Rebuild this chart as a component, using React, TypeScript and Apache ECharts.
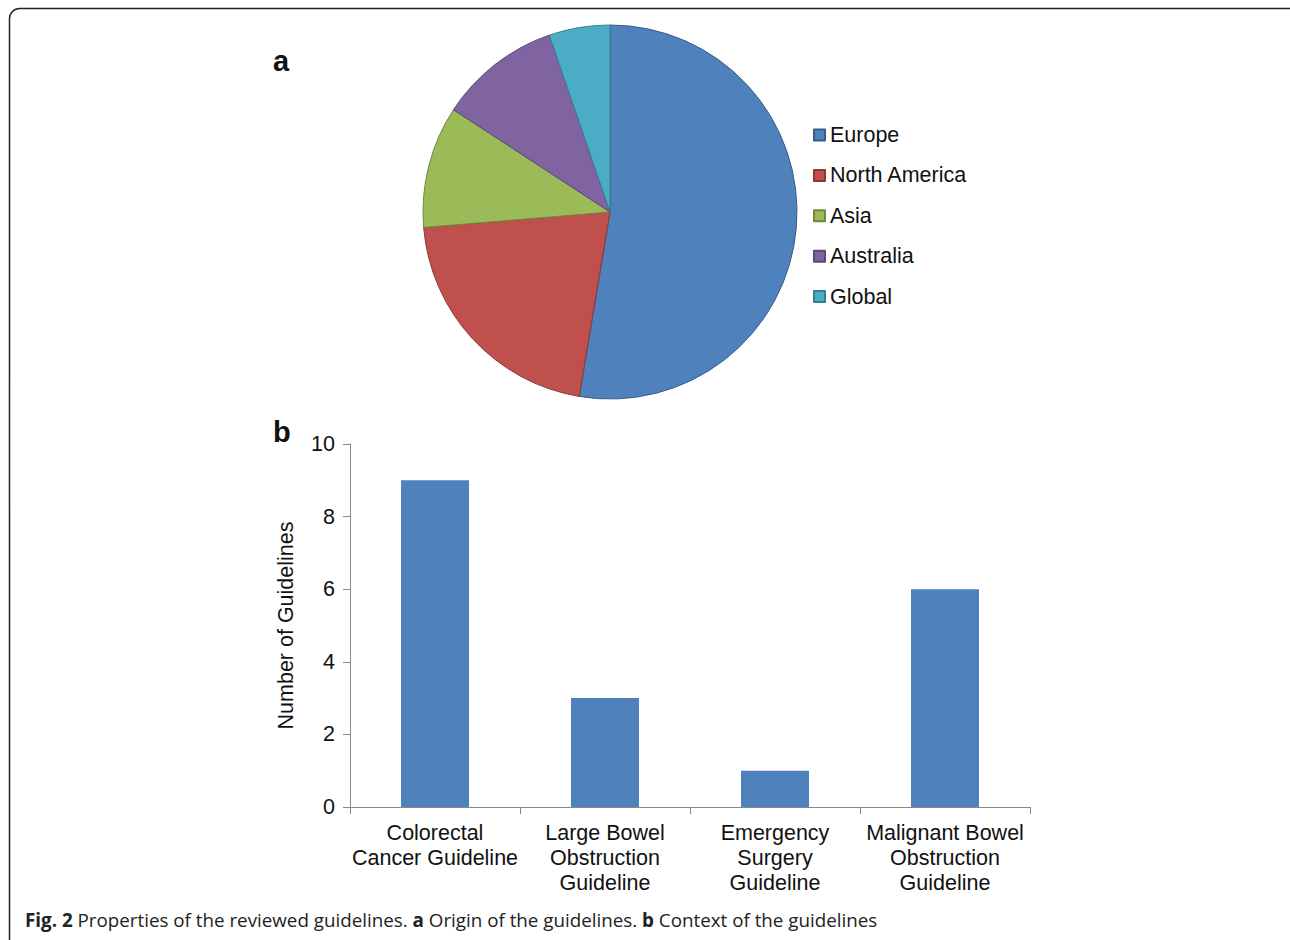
import React, { useEffect, useRef } from "react";
import * as echarts from "echarts";

const regions = ["Europe", "North America", "Asia", "Australia", "Global"];
const regionCounts = [10, 4, 2, 2, 1];
const regionColors = ["#4F81BD", "#C0504D", "#9BBB59", "#8064A2", "#4BACC6"];
const regionBorders = ["#385D8A", "#8C3836", "#71893F", "#5C4776", "#357D91"];

const contexts = [
  "Colorectal\nCancer Guideline",
  "Large Bowel\nObstruction\nGuideline",
  "Emergency\nSurgery\nGuideline",
  "Malignant Bowel\nObstruction\nGuideline",
];
const contextCounts = [9, 3, 1, 6];
const yTicks = [0, 2, 4, 6, 8, 10];

export default function App() {
  const ref = useRef<HTMLDivElement>(null);
  useEffect(() => {
    if (!ref.current) return;
    const chart = echarts.init(ref.current, undefined, { renderer: "svg" });
    const font = "Liberation Sans, Arial, sans-serif";
    const capFont = "Open Sans, Noto Sans, sans-serif";
    const fs = 21.5;
    chart.setOption({
      animation: false,
      backgroundColor: "#ffffff",
      textStyle: { fontFamily: font },
      legend: {
        orient: "vertical",
        left: 808,
        top: 119,
        itemWidth: 11,
        itemHeight: 11,
        itemGap: 18.4,
        icon: "rect",
        data: regions,
        textStyle: { fontSize: fs, color: "#111", fontFamily: font },
      },
      grid: { left: 350, top: 444, width: 680, height: 363 },
      xAxis: {
        type: "category",
        data: contexts,
        axisLine: { lineStyle: { color: "#888888", width: 1 } },
        axisTick: { show: true, length: 7, alignWithLabel: false, lineStyle: { color: "#888888" } },
        axisLabel: {
          interval: 0,
          fontSize: fs,
          lineHeight: 25,
          color: "#111",
          margin: 13,
          fontFamily: font,
        },
      },
      yAxis: {
        type: "value",
        min: 0,
        max: 10,
        interval: 2,
        name: "Number of Guidelines",
        nameLocation: "middle",
        nameGap: 53,
        nameRotate: 90,
        nameTextStyle: { fontSize: fs, color: "#111", fontFamily: font },
        axisLine: { show: true, lineStyle: { color: "#888888", width: 1 } },
        axisTick: { show: true, length: 7, lineStyle: { color: "#888888" } },
        splitLine: { show: false },
        axisLabel: {
          fontSize: fs,
          color: "#111",
          margin: 15,
          fontFamily: font,
          formatter: (v: number) => (yTicks.includes(v) ? String(v) : ""),
        },
      },
      series: [
        {
          type: "pie",
          center: [610, 212],
          radius: 187,
          startAngle: 90,
          clockwise: true,
          label: { show: false },
          labelLine: { show: false },
          emphasis: { disabled: true },
          data: regions.map((name, i) => ({
            name,
            value: regionCounts[i],
            itemStyle: { color: regionColors[i], borderColor: regionBorders[i], borderWidth: 1 },
          })),
        },
        {
          type: "bar",
          data: contextCounts,
          barWidth: 68,
          itemStyle: { color: "#4F81BD" },
          emphasis: { disabled: true },
        },
      ],
      graphic: [
        {
          type: "rect",
          shape: { x: 9.5, y: 8.5, width: 1320, height: 960, r: 10 },
          style: { fill: "none", stroke: "#222", lineWidth: 1.5 },
          silent: true,
        },
        {
          type: "text",
          x: 273,
          y: 46,
          style: { text: "a", fontSize: 29, fontWeight: "bold", fill: "#111", fontFamily: font },
        },
        {
          type: "text",
          x: 273,
          y: 417,
          style: { text: "b", fontSize: 29, fontWeight: "bold", fill: "#111", fontFamily: font },
        },
        {
          type: "text",
          x: 25,
          y: 910,
          style: {
            text: "{b|Fig. 2} Properties of the reviewed guidelines. {b|a} Origin of the guidelines. {b|b} Context of the guidelines",
            fontSize: 18.8,
            fill: "#222",
            fontFamily: capFont,
            rich: {
              b: { fontWeight: "bold", fontSize: 18.8, fill: "#222", fontFamily: capFont },
            },
          },
        },
      ],
    });
    return () => chart.dispose();
  }, []);
  return (
    <div
      ref={ref}
      style={{ position: "fixed", left: 0, top: 0, width: 1290, height: 940 }}
    />
  );
}
